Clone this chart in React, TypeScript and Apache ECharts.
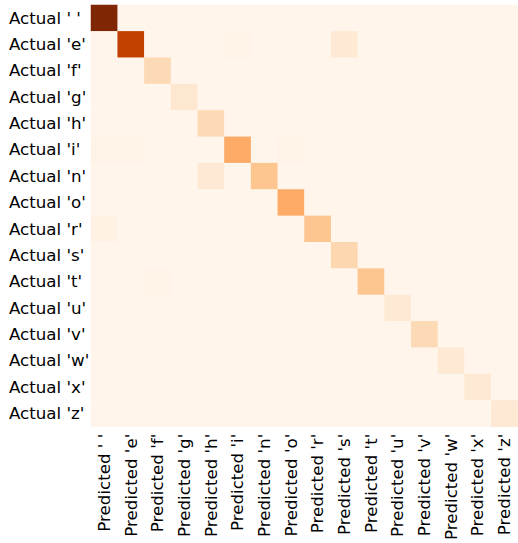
import React, { useEffect, useRef } from "react";
import * as echarts from "echarts";

const chars = [" ", "e", "f", "g", "h", "i", "n", "o", "r", "s", "t", "u", "v", "w", "x", "z"];
const predictedLabels = chars.map((c) => `Predicted '${c}'`);
const actualLabels = chars.map((c) => `Actual '${c}'`);

// correct predictions (diagonal), in order of chars
const diagonalCounts = [62, 50, 12, 7, 12, 24, 18, 24, 18, 13, 18, 6, 12, 6, 6, 6];

// off-diagonal errors: [actual char, predicted char, count]
const errors: [string, string, number][] = [
  ["e", "s", 6],
  ["e", "i", 1],
  ["i", " ", 1],
  ["i", "e", 1],
  ["i", "o", 1],
  ["n", "h", 6],
  ["r", " ", 2],
  ["t", "f", 1],
];

const orangesColors = [
  "#fff5eb", "#fee6ce", "#fdd0a2", "#fdae6b", "#fd8d3c",
  "#f16913", "#d94801", "#a63603", "#7f2704",
];

export default function App() {
  const ref = useRef<HTMLDivElement>(null);
  useEffect(() => {
    if (!ref.current) return;
    const chart = echarts.init(ref.current, undefined, { renderer: "svg" });
    const n = chars.length;
    const matrix: number[][] = [];
    for (let a = 0; a < n; a++) {
      const row: number[] = [];
      for (let p = 0; p < n; p++) row.push(a === p ? diagonalCounts[a] : 0);
      matrix.push(row);
    }
    errors.forEach(([a, p, v]) => {
      matrix[chars.indexOf(a)][chars.indexOf(p)] = v;
    });
    const data: [number, number, number][] = [];
    for (let a = 0; a < n; a++)
      for (let p = 0; p < n; p++) data.push([p, a, matrix[a][p]]);
    const maxVal = Math.max(...diagonalCounts);
    const font = "DejaVu Sans";
    chart.setOption({
      animation: false,
      backgroundColor: "#ffffff",
      grid: { left: 91, top: 5, width: 427, height: 428, containLabel: false },
      xAxis: {
        type: "category",
        data: predictedLabels,
        axisLine: { show: false },
        axisTick: { show: false },
        splitLine: { show: false },
        axisLabel: {
          rotate: 90,
          margin: 7,
          color: "#000000",
          fontFamily: font,
          fontSize: 16.67,
          interval: 0,
        },
      },
      yAxis: {
        type: "category",
        data: actualLabels,
        inverse: true,
        axisLine: { show: false },
        axisTick: { show: false },
        splitLine: { show: false },
        axisLabel: {
          margin: 82,
          align: "left",
          color: "#000000",
          fontFamily: font,
          fontSize: 16.67,
          interval: 0,
        },
      },
      visualMap: {
        show: false,
        type: "continuous",
        min: 0,
        max: maxVal,
        dimension: 2,
        inRange: { color: orangesColors },
      },
      series: [
        {
          type: "heatmap",
          data,
          itemStyle: { borderWidth: 0 },
          emphasis: { disabled: true },
        },
      ],
    });
    return () => chart.dispose();
  }, []);
  return (
    <div
      ref={ref}
      style={{ position: "fixed", left: 0, top: 0, width: 518, height: 543 }}
    />
  );
}
